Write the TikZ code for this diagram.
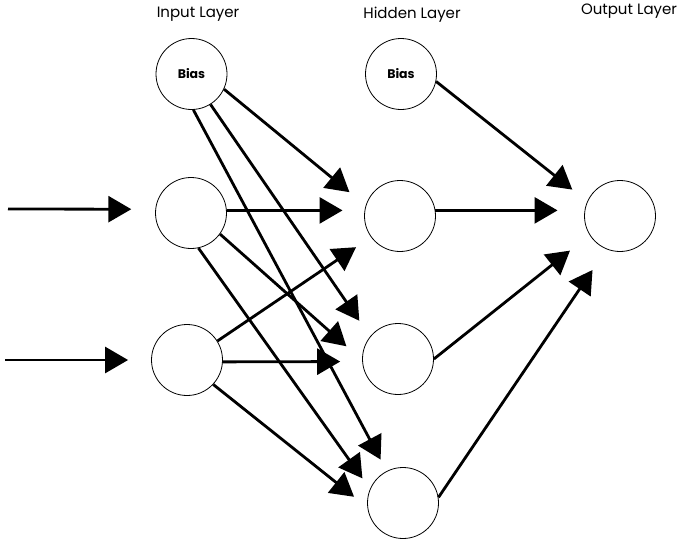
\documentclass[tikz,border=0pt]{standalone}
\usepackage{fontspec}
\setmainfont{Poppins}
\usetikzlibrary{arrows.meta}
\tikzset{
	neuron/.style={draw, circle, minimum size=71pt, inner sep=0pt, line width=0.8pt},
	conn/.style={line width=2.8pt, -{Triangle[length=23pt,width=26pt]}},
	layer/.style={font=\fontsize{15}{17}\selectfont},
	biastext/.style={font=\bfseries\fontsize{12.5}{14}\selectfont}
}
\begin{document}
\begin{tikzpicture}[x=1pt,y=-1pt]
	%\draw[help lines, gray!30] (0,0) grid (684,541);
	\useasboundingbox (0,0) rectangle (684,541);
	
	\node[layer] (tin) at (198,14) {Input Layer};
	\node[layer] (thid) at (412,15) {Hidden Layer};
	\node[layer] (tout) at (629,11) {Output Layer};
	
	\node[neuron, biastext] (ib) at (191.5,74) {Bias};
	\node[neuron] (i1) at (191,213) {};
	\node[neuron] (i2) at (187,360) {};
	\node[neuron, biastext] (hb) at (401,74) {Bias};
	\node[neuron] (h1) at (400,216) {};
	\node[neuron] (h2) at (398,359) {};
	\node[neuron] (h3) at (403,503) {};
	\node[neuron] (o) at (620,216) {};
	
	\coordinate (x1) at (8,209);
	\coordinate (x2) at (5,360);
	\draw[conn, shorten >=24pt] (x1) -- (i1.174);
	\draw[conn, shorten >=23pt] (x2) -- (i2.180);
	
	\foreach \s/\a/\t/\b/\l in {ib/-25/h1/163/21, ib/-58/h2/141/19, ib/-87/h3/117/13,
		i1/4/h1/171/22, i1/-36/h2/182/21, i1/-78/h3/157/13,
		i2/32/h1/216/18, i2/-3/h2/184/22, i2/-43/h3/187/17,
		hb/-12/o/156/19, h1/9/o/171/27, h2/0/o/212/25, h3/9/o/248/25}
	\draw[conn, shorten >=\l pt] (\s.\a) -- (\t.\b);
	
\end{tikzpicture}
\end{document}
